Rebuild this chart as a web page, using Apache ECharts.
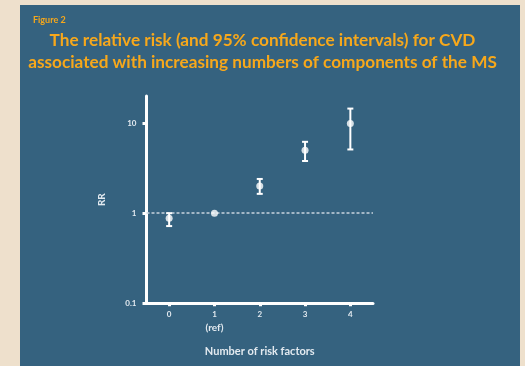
<!DOCTYPE html>
<html>
<head>
<meta charset="utf-8">
<script src="https://cdn.jsdelivr.net/npm/echarts@6/dist/echarts.min.js"></script>
<style>
  html, body { margin: 0; padding: 0; background: #eee0cc; }
  #chart { width: 525px; height: 366px; }
</style>
</head>
<body>
<div id="chart"></div>
<script>
// Number of metabolic-syndrome components (x) and relative risk of CVD with 95% CI
const riskCounts = [0, 1, 2, 3, 4];
const xTickLabels = ['0', '1\n{ref|(ref)}', '2', '3', '4'];
const rrValues = [0.88, 1.0, 2.0, 5.0, 9.9];
const ciLower = [0.72, null, 1.64, 3.8, 5.1];
const ciUpper = [1.0, null, 2.4, 6.2, 14.5];
const yTickValues = [0.1, 1, 10];
const yMin = 0.1;
const yMax = 20;

const PANEL = '#35627f';
const ORANGE = '#f7a81b';
const LIGHT = '#e3eaf0';
const FONT = 'Lato';

// The y axis is logarithmic: values are placed on a log10 value axis
const lg = v => Math.log10(v);

const points = riskCounts.map((x, i) => [x, lg(rrValues[i])]);
const bars = riskCounts
  .map((x, i) => ciLower[i] == null ? null : [x, lg(ciLower[i]), lg(ciUpper[i])])
  .filter(Boolean);

const chart = echarts.init(document.getElementById('chart'));
chart.setOption({
  backgroundColor: '#eee0cc',
  animation: false,
  graphic: [
    { type: 'rect', z: -10, shape: { x: 20, y: 5, width: 500, height: 366 }, style: { fill: PANEL } }
  ],
  title: [
    {
      text: 'Figure 2', left: 28, top: 11,
      textStyle: { color: ORANGE, fontFamily: FONT, fontWeight: 'bold', fontSize: 9 }
    },
    {
      text: 'The relative risk (and 95% confidence intervals) for CVD\nassociated with increasing numbers of components of the MS',
      left: 'center', top: 24,
      textStyle: { color: ORANGE, fontFamily: FONT, fontWeight: 'bold', fontSize: 17.2, lineHeight: 22, align: 'center' }
    }
  ],
  grid: { left: 146.5, right: 525 - 373, top: 96, bottom: 366 - 303.3, containLabel: false },
  xAxis: {
    type: 'value',
    min: -0.5,
    max: 4.5,
    name: 'Number of risk factors',
    nameLocation: 'middle',
    nameGap: 43,
    nameTextStyle: { color: LIGHT, fontFamily: FONT, fontWeight: 'bold', fontSize: 11 },
    splitLine: { show: false },
    axisLine: { onZero: false, lineStyle: { color: '#ffffff', width: 3 } },
    axisTick: { customValues: riskCounts, length: 3, inside: false, lineStyle: { color: '#ffffff', width: 3 } },
    axisLabel: {
      customValues: riskCounts,
      formatter: v => xTickLabels[riskCounts.indexOf(v)] ?? '',
      color: LIGHT, fontFamily: FONT, fontWeight: 'bold', fontSize: 8, lineHeight: 12, margin: 5,
      verticalAlign: 'top',
      rich: {
        ref: { color: LIGHT, fontFamily: FONT, fontWeight: 'bold', fontSize: 10, lineHeight: 14 }
      }
    }
  },
  yAxis: {
    type: 'value',
    min: lg(yMin),
    max: lg(yMax),
    name: 'RR',
    nameLocation: 'middle',
    nameRotate: 90,
    nameGap: 40,
    nameTextStyle: { color: LIGHT, fontFamily: FONT, fontWeight: 'bold', fontSize: 10 },
    splitLine: { show: false },
    axisLine: { onZero: false, lineStyle: { color: '#ffffff', width: 3 } },
    axisTick: { customValues: yTickValues.map(lg), length: 4, lineStyle: { color: '#ffffff', width: 3 } },
    axisLabel: {
      customValues: yTickValues.map(lg),
      formatter: v => {
        const r = Math.round(v);
        return r === -1 ? '0.1' : String(Math.pow(10, r));
      },
      color: LIGHT, fontFamily: FONT, fontWeight: 'bold', fontSize: 8, margin: 10
    }
  },
  series: [
    {
      // 95% confidence interval whiskers
      type: 'custom',
      z: 3,
      data: bars,
      renderItem: (params, api) => {
        const x = api.value(0);
        const lo = api.coord([x, api.value(1)]);
        const hi = api.coord([x, api.value(2)]);
        const cap = 3;
        const st = { stroke: '#ffffff', lineWidth: 2 };
        return {
          type: 'group',
          children: [
            { type: 'line', shape: { x1: lo[0], y1: lo[1], x2: hi[0], y2: hi[1] }, style: st },
            { type: 'line', shape: { x1: lo[0] - cap, y1: lo[1], x2: lo[0] + cap, y2: lo[1] }, style: st },
            { type: 'line', shape: { x1: hi[0] - cap, y1: hi[1], x2: hi[0] + cap, y2: hi[1] }, style: st }
          ]
        };
      }
    },
    {
      type: 'scatter',
      z: 4,
      symbol: 'circle',
      symbolSize: 7,
      itemStyle: { color: '#ffffff' },
      data: points,
      markLine: {
        silent: true,
        symbol: 'none',
        z: 2,
        label: { show: false },
        lineStyle: { color: '#c8d4de', type: [3, 2], width: 1.5 },
        data: [[{ coord: [-0.5, 0] }, { coord: [4.5, 0] }]]
      }
    }
  ]
});
</script>
</body>
</html>
